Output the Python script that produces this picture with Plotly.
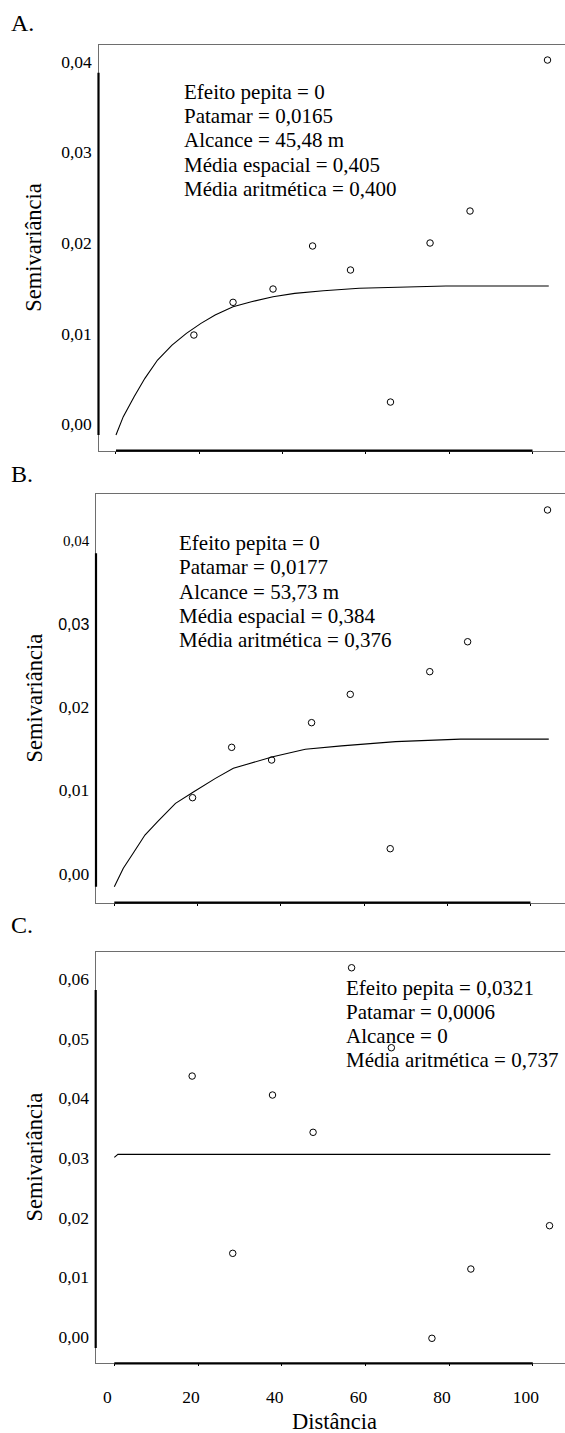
import plotly.graph_objects as go

# ---------------- data ----------------
# Panel A
a_lag = [18.7, 28.1, 37.7, 47.2, 56.3, 65.9, 75.4, 85.0, 103.6]
a_gamma = [0.01104, 0.01465, 0.01612, 0.02087, 0.01822, 0.00364, 0.0212, 0.02473, 0.0414]
a_model_x = [0.0, 1.75, 4.35, 6.94, 9.98, 13.45, 16.9, 20.4, 23.8, 28.1, 32.5, 37.7, 42.9, 49.8, 58.4, 67.1, 79.2, 103.9]
a_model_y = [0.0, 0.00203, 0.00423, 0.00626, 0.00828, 0.00993, 0.01122, 0.01233, 0.01325, 0.01417,
             0.01472, 0.01527, 0.01564, 0.01593, 0.0162, 0.0163, 0.01645, 0.01645]
a_text = ["Efeito pepita = 0", "Patamar = 0,0165", "Alcance = 45,48 m",
          "Média espacial = 0,405", "Média aritmética = 0,400"]

# Panel B
b_lag = [18.8, 28.2, 37.8, 47.4, 56.7, 66.3, 75.8, 84.9, 104.1]
b_gamma = [0.01068, 0.01672, 0.0152, 0.01968, 0.02308, 0.00456, 0.0258, 0.02939, 0.0452]
b_model_x = [0.0, 2.16, 4.76, 7.36, 10.4, 14.7, 19.1, 24.3, 28.6, 32.9, 38.1, 45.9, 54.6, 67.6, 83.2, 104.4]
b_model_y = [0.0, 0.00221, 0.0042, 0.0062, 0.0078, 0.0100, 0.0114, 0.0130, 0.0142, 0.0148,
             0.0156, 0.0165, 0.0169, 0.0174, 0.0177, 0.0177]
b_text = ["Efeito pepita = 0", "Patamar = 0,0177", "Alcance = 53,73 m",
          "Média espacial = 0,384", "Média aritmética = 0,376"]

# Panel C
c_lag = [18.6, 28.3, 37.8, 47.5, 56.7, 66.2, 75.9, 85.2, 104.0]
c_gamma = [0.04558, 0.01587, 0.0424, 0.03615, 0.06373, 0.05033, 0.00163, 0.01324, 0.0205]
c_model_x = [0.0, 0.86, 104.2]
c_model_y = [0.03196, 0.03246, 0.03246]
c_text = ["Efeito pepita = 0,0321", "Patamar = 0,0006", "Alcance = 0",
          "Média aritmética = 0,737"]

x_ticks = [0, 20, 40, 60, 80, 100]
x_ticktext = ["0", "20", "40", "60", "80", "100"]
y_ticks_ab = [0.0, 0.01, 0.02, 0.03, 0.04]
y_ticktext_a = ["0,00", "0,01", "0,02", "0,03", "0,04"]
y_ticktext_b = ["0,00", "0,01", "0,02",
                "<span style='font-family:Liberation Sans;font-size:16px'>0,03</span>",
                "<span style='font-size:15px'>0,04</span>"]
y_ticks_c = [0.0, 0.01, 0.02, 0.03, 0.04, 0.05, 0.06]
y_ticktext_c = ["0,00", "0,01", "0,02", "0,03", "0,04", "0,05", "0,06"]

panel_letters = ["A.", "B.", "C."]
y_title = "Semivariância"
x_title = "Distância"

# ---------------- layout helpers ----------------
W, H = 565, 1433
FONT = "Liberation Serif"

def py(v):  # pixel-from-top -> paper fraction
    return 1 - v / H

def px(v):
    return v / W

panels = [
    dict(lag=a_lag, g=a_gamma, mx=a_model_x, my=a_model_y, text=a_text,
         ticks=y_ticks_ab, ticktext=y_ticktext_a,
         xdom=[px(98.5), 1], ydom=[py(450.7), py(45)],
         xr=[-4.2, 107.8], yr=[-0.00173, 0.04306], shift=-11,
         tx=181.7, ty=[91.7, 116.0, 140.3, 164.6, 189.0], letter_y=23),
    dict(lag=b_lag, g=b_gamma, mx=b_model_x, my=b_model_y, text=b_text,
         ticks=y_ticks_ab, ticktext=y_ticktext_b,
         xdom=[px(96), 1], ydom=[py(902.7), py(494.3)],
         xr=[-4.4, 108.3], yr=[-0.00192, 0.04708], shift=-13,
         tx=177.4, ty=[543.3, 567.5, 591.7, 615.9, 640.1], letter_y=474),
    dict(lag=c_lag, g=c_gamma, mx=c_model_x, my=c_model_y, text=c_text,
         ticks=y_ticks_c, ticktext=y_ticktext_c,
         xdom=[px(95.7), 1], ydom=[py(1363.3), py(951.7)],
         xr=[-4.45, 107.7], yr=[-0.00256, 0.06642], shift=-11,
         tx=344.2, ty=[988.3, 1012.2, 1036.1, 1060.0], letter_y=925),
]

fig = go.Figure()
annotations = []
shapes = []
layout = dict(
    width=W, height=H,
    margin=dict(l=0, r=0, t=0, b=0),
    paper_bgcolor="white", plot_bgcolor="white",
    showlegend=False,
    font=dict(family=FONT, color="black", size=17.5),
)

for i, p in enumerate(panels):
    n = "" if i == 0 else str(i + 1)
    xa, ya = "x" + n, "y" + n
    fig.add_trace(go.Scatter(x=p["mx"], y=p["my"], mode="lines", xaxis=xa, yaxis=ya,
                             line=dict(color="black", width=1.1), hoverinfo="skip"))
    fig.add_trace(go.Scatter(x=p["lag"], y=p["g"], mode="markers", xaxis=xa, yaxis=ya,
                             marker=dict(symbol="circle-open", size=6.5, color="black",
                                         line=dict(width=1, color="black"))))
    last = (i == 2)
    layout["xaxis" + n] = dict(
        domain=p["xdom"], range=p["xr"], anchor=ya,
        showline=True, linecolor="#6e6e6e", linewidth=1.3, mirror=True,
        showgrid=False, zeroline=False,
        tickmode="array", tickvals=x_ticks, ticktext=x_ticktext,
        ticks="outside", ticklen=2, tickwidth=1, tickcolor="black",
        showticklabels=last, ticklabelshift=-7, ticklabelstandoff=16,
        tickfont=dict(family=FONT, size=17.5, color="black"),
        automargin=False,
    )
    layout["yaxis" + n] = dict(
        domain=p["ydom"], range=p["yr"], anchor=xa,
        showline=True, linecolor="#6e6e6e", linewidth=1.3, mirror=False,
        showgrid=False, zeroline=False,
        tickmode="array", tickvals=p["ticks"], ticktext=p["ticktext"],
        ticks="", ticklabelshift=p["shift"], ticklabelstandoff=2,
        tickfont=dict(family=FONT, size=17.5, color="black"),
        automargin=False,
    )
    # thick axis segments spanning the tick range
    shapes.append(dict(type="line", xref=xa, yref=ya + " domain",
                       x0=x_ticks[0], x1=x_ticks[-1], y0=0, y1=0,
                       line=dict(color="black", width=2.2)))
    shapes.append(dict(type="line", xref=xa + " domain", yref=ya,
                       x0=0, x1=0, y0=p["ticks"][0], y1=p["ticks"][-1],
                       line=dict(color="black", width=2.2)))
    # y-axis title
    annotations.append(dict(text=y_title, xref="paper", yref=ya + " domain",
                            x=px(34), y=0.5, xanchor="center", yanchor="middle",
                            textangle=-90, showarrow=False,
                            font=dict(family=FONT, size=22.5, color="black")))
    # panel letter
    annotations.append(dict(text=panel_letters[i], xref="paper", yref="paper",
                            x=px(9), y=py(p["letter_y"]), xanchor="left", yanchor="middle",
                            showarrow=False, font=dict(family=FONT, size=24, color="black")))
    # statistics text
    for line, yy in zip(p["text"], p["ty"]):
        annotations.append(dict(text=line, xref="paper", yref="paper",
                                x=px(p["tx"]), y=py(yy), xanchor="left", yanchor="middle",
                                showarrow=False, font=dict(family=FONT, size=21, color="black")))

annotations.append(dict(text=x_title, xref="x3 domain", yref="paper",
                        x=(334 - 95.7) / (565 - 95.7), y=py(1421.7),
                        xanchor="center", yanchor="middle", showarrow=False,
                        font=dict(family=FONT, size=22.5, color="black")))

layout["annotations"] = annotations
layout["shapes"] = shapes
fig.update_layout(**layout)
fig.write_html("out.html",
               config={"displayModeBar": False},
               post_script="document.body.style.margin='0px';document.body.style.overflow='hidden';")
